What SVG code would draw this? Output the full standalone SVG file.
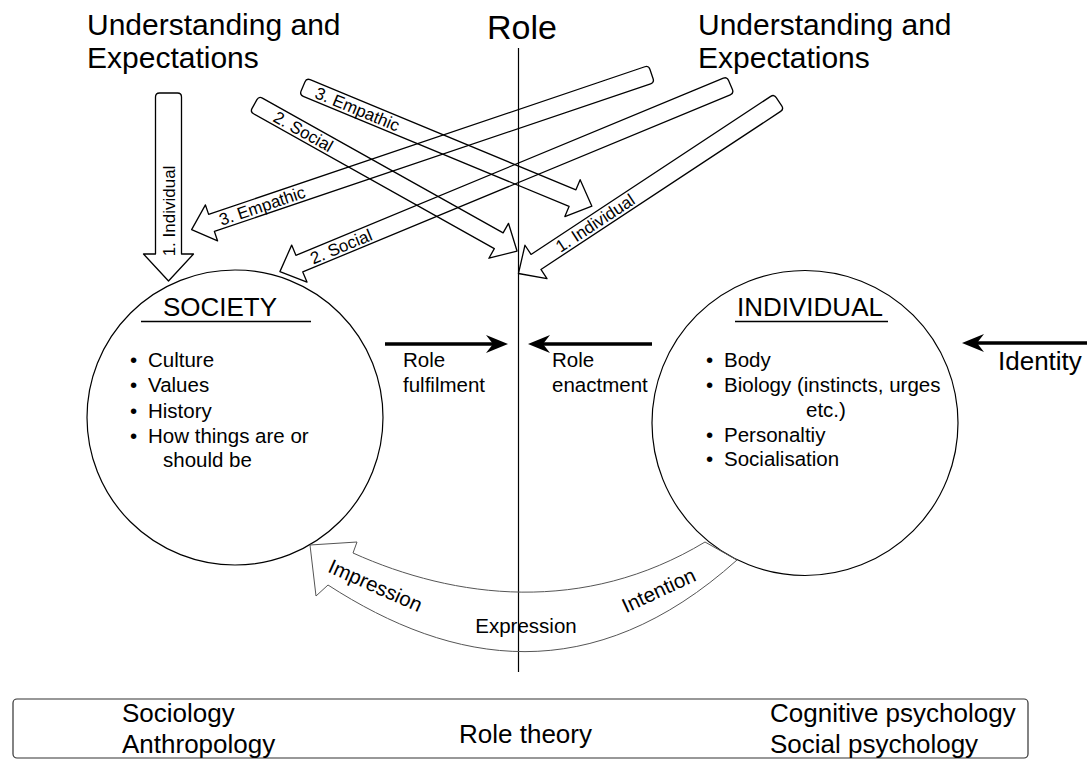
<svg xmlns="http://www.w3.org/2000/svg" width="1087" height="764" viewBox="0 0 1087 764">
<style>
text{font-family:"Liberation Sans",Arial,sans-serif;fill:#000}
.hdr{font-size:30px}
.big{font-size:26px}
.item{font-size:20.5px}
.lbl{font-size:17px;text-anchor:middle}
.blk{fill:none;stroke:#000;stroke-width:1.3;stroke-linejoin:round}
.thin{fill:none;stroke:#000;stroke-width:1.2}
.thick{stroke:#000;stroke-width:3.5}
</style>
<rect width="1087" height="764" fill="#fff"/>

<g id="headers">
<text class="hdr" x="87" y="35">Understanding and</text>
<text class="hdr" x="87" y="68">Expectations</text>
<text class="hdr" x="698" y="35">Understanding and</text>
<text class="hdr" x="698" y="68">Expectations</text>
<text x="487" y="39" style="font-size:34px">Role</text>
</g>

<g id="role-line">
<line x1="518.5" y1="48" x2="518.5" y2="672" class="thin"/>
</g>

<g id="society">
<ellipse cx="235" cy="417.5" rx="148" ry="147.5" class="thin"/>
<text class="big" x="220" y="316" text-anchor="middle">SOCIETY</text>
<line x1="141" y1="321.5" x2="311" y2="321.5" stroke="#000" stroke-width="1.3"/>
<g class="item">
<text x="130" y="367">•</text><text x="148" y="367">Culture</text>
<text x="130" y="392">•</text><text x="148" y="392">Values</text>
<text x="130" y="418">•</text><text x="148" y="418">History</text>
<text x="130" y="443">•</text><text x="148" y="443">How things are or</text>
<text x="163" y="467">should be</text>
</g>
</g>

<g id="individual">
<ellipse cx="805" cy="423" rx="153" ry="152.5" class="thin"/>
<text class="big" x="810" y="316" text-anchor="middle">INDIVIDUAL</text>
<line x1="735" y1="321.5" x2="888" y2="321.5" stroke="#000" stroke-width="1.3"/>
<g class="item">
<text x="706" y="367">•</text><text x="724" y="367">Body</text>
<text x="706" y="392">•</text><text x="724" y="392">Biology (instincts, urges</text>
<text x="806" y="417">etc.)</text>
<text x="706" y="442">•</text><text x="724" y="442">Personaltiy</text>
<text x="706" y="466">•</text><text x="724" y="466">Socialisation</text>
</g>
</g>

<g id="identity">
<text class="big" x="998" y="370">Identity</text>
</g>

<g id="connectors">
<path class="blk" transform="translate(168.5,93) rotate(90)" d="M4,-13 H161 V-25 L188,0 L161,25 V13 H4 Q0,13 0,9 V-9 Q0,-13 4,-13 Z"/>
<path class="blk" transform="translate(303,86.5) rotate(22.5)" d="M4,-9 H291.7 V-20 L312.7,0 L291.7,20 V9 H4 Q0,9 0,5 V-5 Q0,-9 4,-9 Z"/>
<path class="blk" transform="translate(254.5,104) rotate(29.25)" d="M4,-9 H279.9 V-20 L300.9,0 L279.9,20 V9 H4 Q0,9 0,5 V-5 Q0,-9 4,-9 Z"/>
<path class="blk" transform="translate(651.5,74) rotate(161.3)" d="M4,-9 H464.5 V-19 L485.5,0 L464.5,19 V9 H4 Q0,9 0,5 V-5 Q0,-9 4,-9 Z"/>
<path class="blk" transform="translate(730.5,85) rotate(157.5)" d="M4,-9 H466.7 V-20 L487.7,0 L466.7,20 V9 H4 Q0,9 0,5 V-5 Q0,-9 4,-9 Z"/>
<path class="blk" transform="translate(779,101.7) rotate(146.6)" d="M4,-9 H291.1 V-20 L312.1,0 L291.1,20 V9 H4 Q0,9 0,5 V-5 Q0,-9 4,-9 Z"/>

<line x1="385" y1="344" x2="496" y2="344" class="thick"/>
<polygon points="508,344 486,335 493,344 486,353"/>
<line x1="652" y1="344" x2="540" y2="344" class="thick"/>
<polygon points="528,344 550,335 543,344 550,353"/>
<line x1="1087" y1="343" x2="975" y2="343" class="thick"/>
<polygon points="962,343 984,334 977,343 984,352"/>

<path d="M705,542 C584,615 455,599 353,553 L357,542 L310,545 L316,596 L328,585 C453,666 592,690 737,560 Z" fill="none" stroke="#555" stroke-width="1"/>
</g>

<g id="connector-labels">
<text class="lbl" transform="translate(168.5,211) rotate(-90)" y="6">1. Individual</text>
<text class="lbl" transform="translate(357.5,109.1) rotate(22.5)" y="6">3. Empathic</text>
<text class="lbl" transform="translate(303.4,131.4) rotate(29.25)" y="6">2. Social</text>
<text class="lbl" transform="translate(262.2,205.8) rotate(-18.7)" y="6">3. Empathic</text>
<text class="lbl" transform="translate(341,246.5) rotate(-22.5)" y="6">2. Social</text>
<text class="lbl" transform="translate(595,223) rotate(-33.4)" y="6">1. Individual</text>
<g class="item">
<text x="403" y="367">Role</text>
<text x="403" y="392">fulfilment</text>
<text x="552" y="367">Role</text>
<text x="552" y="392">enactment</text>
<text transform="translate(372.5,592) rotate(24)" text-anchor="middle">Impression</text>
<text transform="translate(661.7,596.7) rotate(-25)" text-anchor="middle">Intention</text>
<text x="526" y="633" text-anchor="middle">Expression</text>
</g>
</g>

<g id="disciplines">
<rect x="13" y="699" width="1015" height="59" rx="4" fill="none" stroke="#333" stroke-width="1.2"/>
<text class="big" x="122" y="722">Sociology</text>
<text class="big" x="122" y="753">Anthropology</text>
<text class="big" x="459" y="743">Role theory</text>
<text class="big" x="770" y="722">Cognitive psychology</text>
<text class="big" x="770" y="753">Social psychology</text>
</g>
</svg>
